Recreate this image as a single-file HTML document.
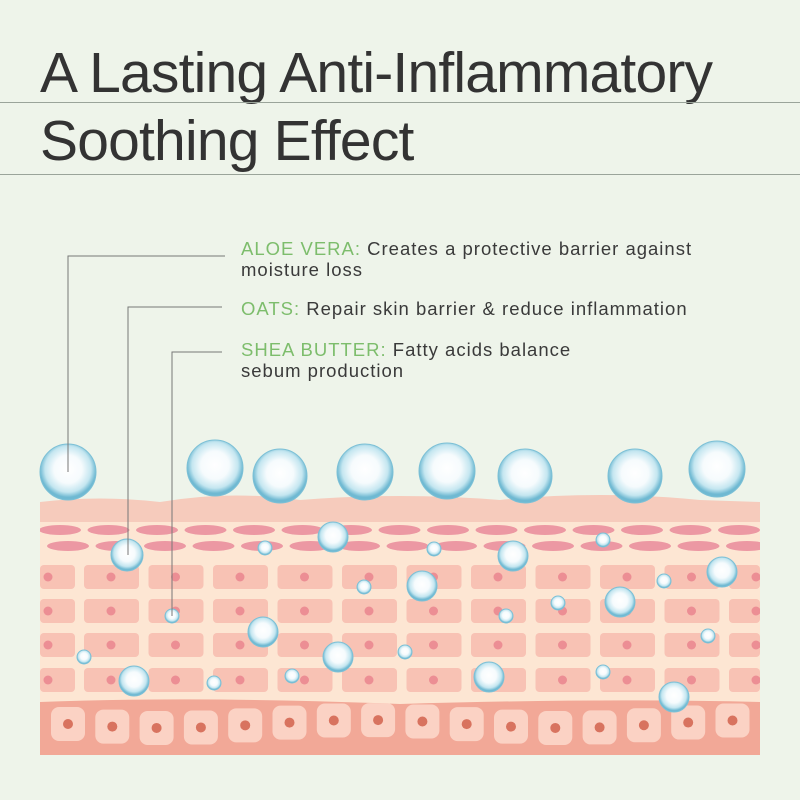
<!DOCTYPE html>
<html><head><meta charset="utf-8"><style>
body{margin:0;background:#eef4ea;}
#w{position:relative;width:800px;height:800px;overflow:hidden;background:#eef4ea;font-family:"Liberation Sans",sans-serif;}
.t{position:absolute;left:40px;font-size:57px;color:#333;letter-spacing:-0.8px;font-weight:300;}
.hl{position:absolute;left:0;width:800px;height:1px;background:#9aa49a;}
.lb{position:absolute;left:241px;font-size:18.5px;color:#3a3a3a;line-height:21px;letter-spacing:1px;}
.lb b{font-weight:normal;color:#7dbd6c;}
svg{position:absolute;left:0;top:0;}
</style></head><body><div id="w">
<svg id="s" width="800" height="800" viewBox="0 0 800 800">
<defs>
<radialGradient id="bub" cx="50%" cy="45%" r="50%">
<stop offset="0" stop-color="#ffffff"/><stop offset="0.5" stop-color="#f6fbfd"/><stop offset="0.82" stop-color="#c4e6f0"/><stop offset="1" stop-color="#6fb9d2"/>
</radialGradient>
<clipPath id="cp"><rect x="40" y="480" width="720" height="280"/></clipPath>
</defs>
<g id="g"></g>
</svg>
<div class="t" style="top:40px">A Lasting Anti-Inflammatory</div>
<div class="hl" style="top:102px"></div>
<div class="t" style="top:108px">Soothing Effect</div>
<div class="hl" style="top:174px"></div>
<div class="lb" style="top:238px"><b>ALOE VERA:</b> Creates a protective barrier against<br>moisture loss</div>
<div class="lb" style="top:298px"><b>OATS:</b> Repair skin barrier &amp; reduce inflammation</div>
<div class="lb" style="top:339px"><b>SHEA BUTTER:</b> Fatty acids balance<br>sebum production</div>
</div>
<script>
var h='<g clip-path="url(#cp)">';
h+='<rect x="40" y="520" width="720" height="235" fill="#fde6d3"/>';
h+='<path d="M40 502 Q100 495 160 502 Q230 490 300 500 Q400 492 500 500 Q600 490 700 500 L760 502 L760 522 L40 522Z" fill="#f6cbbc"/>';
for(var r=0;r<2;r++){var y=r?546:530;for(var x=40+(r?8:0);x<800;x+=48.5){h+='<ellipse cx="'+(x+20)+'" cy="'+y+'" rx="21" ry="5" fill="#ec98a3"/>';}}
var rows=[565,599,633,668];
rows.forEach(function(y){h+='<rect x="40" y="'+y+'" width="35" height="24" rx="4" fill="#f8c2b4"/><circle cx="48" cy="'+(y+12)+'" r="4.5" fill="#ec8e94"/>';
for(var c=0;c<11;c++){var x=84+c*64.5;var w=Math.min(55,760-x);if(w<=0)break;h+='<rect x="'+x+'" y="'+y+'" width="'+w+'" height="24" rx="4" fill="#f8c2b4"/>';if(x+28<760)h+='<circle cx="'+(x+27)+'" cy="'+(y+12)+'" r="4.5" fill="#ec8e94"/>';}});
h+='<path d="M40 702 Q200 696 400 704 Q600 698 760 702 L760 755 L40 755Z" fill="#f2a897"/>';
for(var i=0;i<16;i++){var cx=68+i*44.3;if(cx>745)break;var cy=724+4*Math.sin(i*0.7);h+='<rect x="'+(cx-17)+'" y="'+(cy-17)+'" width="34" height="34" rx="8" fill="#fbd2c4"/><circle cx="'+cx+'" cy="'+cy+'" r="5" fill="#d8735f"/>';}
h+='</g>';
h+='<polyline points="225,256 68,256 68,472" fill="none" stroke="#777" stroke-width="1"/>';
h+='<polyline points="222,307 128,307 128,555" fill="none" stroke="#777" stroke-width="1"/>';
h+='<polyline points="222,352 172,352 172,616" fill="none" stroke="#777" stroke-width="1"/>';
var b=[[68,472,28],[215,468,28],[280,476,27],[365,472,28],[447,471,28],[525,476,27],[635,476,27],[717,469,28],
[127,555,16],[265,548,7],[333,537,15],[434,549,7],[513,556,15],[603,540,7],[364,587,7],[422,586,15],[722,572,15],[558,603,7],[620,602,15],[172,616,7],[506,616,7],[664,581,7],[263,632,15],[708,636,7],[84,657,7],[338,657,15],[405,652,7],[134,681,15],[214,683,7],[292,676,7],[489,677,15],[603,672,7],[674,697,15]];
b.forEach(function(p){h+='<circle cx="'+p[0]+'" cy="'+p[1]+'" r="'+p[2]+'" fill="url(#bub)" stroke="#7cc0d6" stroke-width="1"/>';});
h+='<line x1="68" y1="440" x2="68" y2="472" stroke="#777"/><line x1="128" y1="520" x2="128" y2="555" stroke="#777"/><line x1="172" y1="600" x2="172" y2="616" stroke="#777"/>';
document.getElementById('g').innerHTML=h;
</script>
</body></html>
